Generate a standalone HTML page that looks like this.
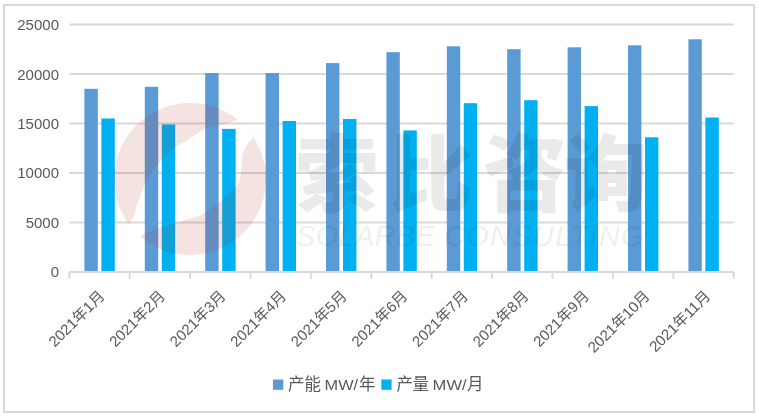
<!DOCTYPE html>
<html><head><meta charset="utf-8"><style>
html,body{margin:0;padding:0;background:#fff;}
body{width:759px;height:418px;overflow:hidden;position:relative;}
svg{position:absolute;left:0;top:0;}
.t{font-family:"Liberation Sans","Noto Sans CJK SC",sans-serif;fill:#595959;}
</style></head><body>
<svg width="759" height="418" viewBox="0 0 759 418">
<rect x="4" y="5" width="750" height="407" fill="#fff" stroke="#d9d9d9" stroke-width="2"/>
<g stroke="#d9d9d9" stroke-width="2">
<line x1="69.3" y1="222.42" x2="733.7" y2="222.42"/>
<line x1="69.3" y1="172.94" x2="733.7" y2="172.94"/>
<line x1="69.3" y1="123.46" x2="733.7" y2="123.46"/>
<line x1="69.3" y1="73.98" x2="733.7" y2="73.98"/>
<line x1="69.3" y1="24.50" x2="733.7" y2="24.50"/>
</g>
<g class="t" font-size="15" text-anchor="end">
<text x="59" y="277.4">0</text>
<text x="59" y="227.9">5000</text>
<text x="59" y="178.4">10000</text>
<text x="59" y="129.0">15000</text>
<text x="59" y="79.5">20000</text>
<text x="59" y="30.0">25000</text>
</g>
<rect x="84.4" y="88.8" width="13.4" height="183.1" fill="#5b9bd5"/>
<rect x="101.4" y="118.5" width="13.4" height="153.4" fill="#00b0f0"/>
<rect x="144.8" y="86.8" width="13.4" height="185.1" fill="#5b9bd5"/>
<rect x="161.8" y="124.4" width="13.4" height="147.5" fill="#00b0f0"/>
<rect x="205.2" y="73.0" width="13.4" height="198.9" fill="#5b9bd5"/>
<rect x="222.2" y="128.9" width="13.4" height="143.0" fill="#00b0f0"/>
<rect x="265.6" y="73.0" width="13.4" height="198.9" fill="#5b9bd5"/>
<rect x="282.6" y="121.0" width="13.4" height="150.9" fill="#00b0f0"/>
<rect x="326.0" y="63.1" width="13.4" height="208.8" fill="#5b9bd5"/>
<rect x="343.0" y="119.0" width="13.4" height="152.9" fill="#00b0f0"/>
<rect x="386.4" y="52.2" width="13.4" height="219.7" fill="#5b9bd5"/>
<rect x="403.4" y="130.4" width="13.4" height="141.5" fill="#00b0f0"/>
<rect x="446.8" y="46.3" width="13.4" height="225.6" fill="#5b9bd5"/>
<rect x="463.8" y="103.2" width="13.4" height="168.7" fill="#00b0f0"/>
<rect x="507.2" y="49.2" width="13.4" height="222.7" fill="#5b9bd5"/>
<rect x="524.2" y="100.2" width="13.4" height="171.7" fill="#00b0f0"/>
<rect x="567.6" y="47.3" width="13.4" height="224.6" fill="#5b9bd5"/>
<rect x="584.6" y="106.1" width="13.4" height="165.8" fill="#00b0f0"/>
<rect x="628.0" y="45.3" width="13.4" height="226.6" fill="#5b9bd5"/>
<rect x="645.0" y="137.3" width="13.4" height="134.6" fill="#00b0f0"/>
<rect x="688.4" y="39.3" width="13.4" height="232.6" fill="#5b9bd5"/>
<rect x="705.4" y="117.5" width="13.4" height="154.4" fill="#00b0f0"/>
<g stroke="#d9d9d9" stroke-width="2">
<line x1="69.3" y1="271.9" x2="733.7" y2="271.9"/>
<line x1="69.3" y1="271.9" x2="69.3" y2="278.5"/>
<line x1="129.7" y1="271.9" x2="129.7" y2="278.5"/>
<line x1="190.1" y1="271.9" x2="190.1" y2="278.5"/>
<line x1="250.5" y1="271.9" x2="250.5" y2="278.5"/>
<line x1="310.9" y1="271.9" x2="310.9" y2="278.5"/>
<line x1="371.3" y1="271.9" x2="371.3" y2="278.5"/>
<line x1="431.7" y1="271.9" x2="431.7" y2="278.5"/>
<line x1="492.1" y1="271.9" x2="492.1" y2="278.5"/>
<line x1="552.5" y1="271.9" x2="552.5" y2="278.5"/>
<line x1="612.9" y1="271.9" x2="612.9" y2="278.5"/>
<line x1="673.3" y1="271.9" x2="673.3" y2="278.5"/>
<line x1="733.7" y1="271.9" x2="733.7" y2="278.5"/>
</g>
<g class="t" font-size="15" text-anchor="end">
<text transform="translate(105.5,297.0) rotate(-45)">2021年1月</text>
<text transform="translate(166.1,297.0) rotate(-45)">2021年2月</text>
<text transform="translate(226.7,297.0) rotate(-45)">2021年3月</text>
<text transform="translate(287.2,297.0) rotate(-45)">2021年4月</text>
<text transform="translate(347.8,297.0) rotate(-45)">2021年5月</text>
<text transform="translate(408.4,297.0) rotate(-45)">2021年6月</text>
<text transform="translate(469.0,297.0) rotate(-45)">2021年7月</text>
<text transform="translate(529.6,297.0) rotate(-45)">2021年8月</text>
<text transform="translate(590.1,297.0) rotate(-45)">2021年9月</text>
<text transform="translate(650.7,297.0) rotate(-45)">2021年10月</text>
<text transform="translate(711.3,297.0) rotate(-45)">2021年11月</text>
</g>
<!-- watermark -->
<defs><mask id="m"><rect width="759" height="418" fill="#fff"/>
<path d="M246.0,116.0 C243.3,117.1 235.2,120.8 230.0,122.5 C224.8,124.2 219.3,124.8 215.0,126.0 C210.7,127.2 208.3,127.3 204.0,129.5 C199.7,131.7 194.0,135.9 189.0,139.0 C184.0,142.1 178.8,144.2 174.0,148.0 C169.2,151.8 164.3,157.0 160.0,162.0 C155.7,167.0 151.0,173.0 148.0,178.0 C145.0,183.0 143.8,187.5 142.0,192.0 C140.2,196.5 138.3,201.2 137.0,205.0 C135.7,208.8 135.5,211.5 134.0,215.0 C132.5,218.5 130.0,222.5 128.0,226.0 C126.0,229.5 121.0,233.0 122.0,236.0 C123.0,239.0 130.8,244.0 134.0,244.0 C137.2,244.0 138.3,238.2 141.0,236.0 C143.7,233.8 146.5,232.5 150.0,231.0 C153.5,229.5 157.7,228.3 162.0,227.0 C166.3,225.7 171.5,224.3 176.0,223.0 C180.5,221.7 184.3,220.6 189.0,219.0 C193.7,217.4 199.2,216.2 204.0,213.5 C208.8,210.8 213.7,206.4 218.0,203.0 C222.3,199.6 226.5,196.5 230.0,193.0 C233.5,189.5 237.1,186.3 239.0,182.0 C240.9,177.7 240.8,171.8 241.5,167.0 C242.2,162.2 241.6,157.3 243.0,153.0 C244.4,148.7 246.8,145.2 250.0,141.0 C253.2,136.8 260.0,130.2 262.0,128.0 Z" fill="#000"/></mask></defs>
<circle cx="190" cy="179" r="76" fill="#aa281e" opacity="0.125" mask="url(#m)"/>
<g class="wm" fill="#000" opacity="0.08">
<text x="294.8 389 483 564" y="205" font-family="'Liberation Sans','Noto Sans CJK SC',sans-serif" font-weight="900" font-size="84">索比咨询</text>
<text x="296" y="245.5" font-family="'Liberation Sans',sans-serif" font-style="italic" font-size="29" letter-spacing="0.3" opacity="0.8">SOLARBE</text>
<text x="444" y="245.5" font-family="'Liberation Sans',sans-serif" font-style="italic" font-size="29" letter-spacing="1.3" opacity="0.8">CONSULTING</text>
</g>
<rect x="273" y="379.5" width="10.3" height="10.3" fill="#5b9bd5"/>
<text class="t" x="288 304.5" y="390" font-size="16.5">产能</text><text class="t" x="324.6" y="390" font-size="14" textLength="33.5" lengthAdjust="spacingAndGlyphs">MW/</text><text class="t" x="359" y="390" font-size="16.5">年</text>
<rect x="381.3" y="379.5" width="10.3" height="10.3" fill="#00b0f0"/>
<text class="t" x="396.4 412.5" y="390" font-size="16.5">产量</text><text class="t" x="432.6" y="390" font-size="14" textLength="34" lengthAdjust="spacingAndGlyphs">MW/</text><text class="t" x="467" y="390" font-size="16.5">月</text>
</svg>
</body></html>
